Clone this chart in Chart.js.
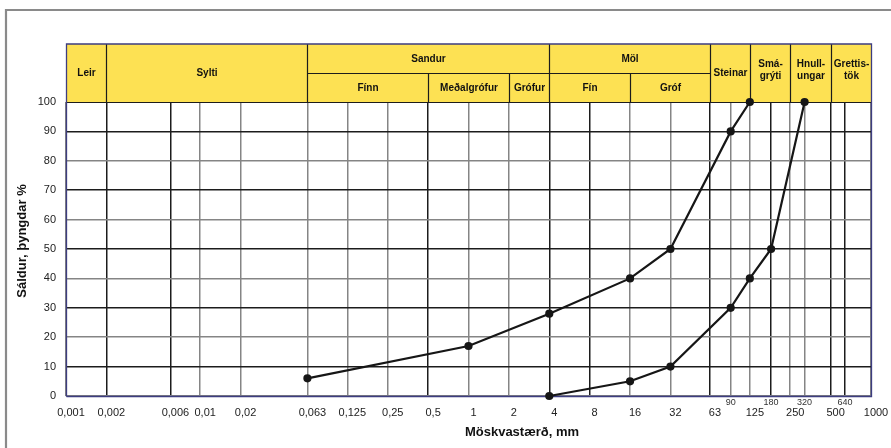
<!DOCTYPE html>
<html><head><meta charset="utf-8">
<script src="https://cdn.jsdelivr.net/npm/chart.js@4.4.0/dist/chart.umd.min.js"></script>
<style>html,body{margin:0;padding:0;background:#fff}canvas{display:block}</style>
</head><body>
<canvas id="c" width="891" height="448"></canvas>
<script>
// ---- data ----
const sizesA = [0.063, 1, 4, 16, 32, 90, 125];
const passA  = [6, 17, 28, 40, 50, 90, 100];
const sizesB = [4, 16, 32, 90, 125, 180, 320];
const passB  = [0, 5, 10, 30, 40, 50, 100];

const xTicks = [0.001, 0.002, 0.006, 0.01, 0.02, 0.063, 0.125, 0.25, 0.5, 1, 2, 4, 8, 16, 32, 63, 125, 250, 500, 1000];
const xMinorTicks = [90, 180, 320, 640];
const yTicks = [0, 10, 20, 30, 40, 50, 60, 70, 80, 90, 100];

// header classes (full height)
const classLabels = ['Leir', 'Sylti', 'Steinar', 'Smá-|grýti', 'Hnull-|ungar', 'Grettis-|tök'];
const classFrom   = [0.001, 0.002, 63, 125, 250, 500];
const classTo     = [0.002, 0.063, 125, 250, 500, 1000];
// header groups (top row) and their sub classes (bottom row)
const groupLabels = ['Sandur', 'Möl'];
const groupFrom   = [0.063, 4];
const groupTo     = [4, 63];
const subLabels   = ['Fínn', 'Meðalgrófur', 'Grófur', 'Fín', 'Gróf'];
const subFrom     = [0.063, 0.5, 2, 4, 16];
const subTo       = [0.5, 2, 4, 16, 63];

const yTitle = 'Sáldur, þyngdar %';
const xTitle = 'Möskvastærð, mm';

// ---- styles ----
const FONT = "'Liberation Sans', Arial, sans-serif";
const NAVY = '#3d3d80';
const DARK = '#1c1c1c';
const GRAY = '#858585';
const YELLOW = '#FDE153';
const darkX = [0.002, 0.006, 0.5, 4, 8, 63, 180, 500, 640];

Chart.defaults.font.family = FONT;

function fmt(v) { return String(v).replace('.', ','); }
function xGridColor(ctx) {
  const v = ctx.tick && ctx.tick.value;
  return darkX.some(d => Math.abs(d - v) / d < 1e-6) ? DARK : GRAY;
}

const decor = {
  id: 'decor',
  beforeDraw(chart) {
    const c = chart.ctx;
    c.save();
    c.fillStyle = '#fff';
    c.fillRect(0, 0, chart.width, chart.height);
    c.strokeStyle = '#8a8a8a';
    c.lineWidth = 2.2;
    c.beginPath();
    c.moveTo(6, chart.height);
    c.lineTo(6, 10);
    c.lineTo(chart.width, 10);
    c.stroke();
    c.restore();
  },
  beforeDatasetsDraw(chart) {
    const c = chart.ctx;
    const xs = chart.scales.x;
    const a = chart.chartArea;
    const top = 44, mid = 73, bot = a.top;
    const X = v => Math.round(xs.getPixelForValue(v)) + 0.5;
    c.save();
    // header fill
    c.fillStyle = YELLOW;
    c.fillRect(X(0.001), top, X(1000) - X(0.001), bot - top);
    c.strokeStyle = DARK;
    c.lineWidth = 1.2;
    // class separators (full height)
    const verts = new Set();
    classFrom.concat(classTo).forEach(v => verts.add(v));
    groupFrom.concat(groupTo).forEach(v => verts.add(v));
    c.beginPath();
    verts.forEach(v => {
      if (v === 0.001 || v === 1000) return;
      c.moveTo(X(v), top); c.lineTo(X(v), bot);
    });
    // sub separators (bottom row)
    subFrom.forEach(v => {
      if (verts.has(v)) return;
      c.moveTo(X(v), mid); c.lineTo(X(v), bot);
    });
    // middle horizontal line under groups
    c.moveTo(X(Math.min(...groupFrom)), mid + 0.5);
    c.lineTo(X(Math.max(...groupTo)), mid + 0.5);
    // header bottom
    c.moveTo(X(0.001), bot + 0.5);
    c.lineTo(X(1000), bot + 0.5);
    c.stroke();
    // text
    c.fillStyle = '#111';
    c.font = 'bold 10px ' + FONT;
    c.textAlign = 'center';
    c.textBaseline = 'middle';
    classLabels.forEach((t, i) => {
      const lines = t.split('|');
      const cx = (X(classFrom[i]) + X(classTo[i])) / 2;
      const cy = lines.length > 1 ? 70 : 73;
      lines.forEach((ln, j) => c.fillText(ln, cx, cy + (j - (lines.length - 1) / 2) * 11.5));
    });
    groupLabels.forEach((t, i) => {
      c.fillText(t, (X(groupFrom[i]) + X(groupTo[i])) / 2, (top + mid) / 2 + 0.5);
    });
    subLabels.forEach((t, i) => {
      c.fillText(t, (X(subFrom[i]) + X(subTo[i])) / 2, (mid + bot) / 2 + 0.5);
    });
    // navy outer border: header top + chart area left, right, bottom
    c.strokeStyle = NAVY;
    c.lineWidth = 1.3;
    c.beginPath();
    c.moveTo(X(0.001), a.bottom + 0.5);
    c.lineTo(X(0.001), top);
    c.lineTo(X(1000), top);
    c.lineTo(X(1000), a.bottom + 0.5);
    c.lineTo(X(0.001), a.bottom + 0.5);
    c.stroke();
    // titles
    c.fillStyle = '#111';
    c.font = 'bold 13px ' + FONT;
    c.textAlign = 'center';
    c.textBaseline = 'middle';
    c.fillText(xTitle, 522, 432);
    c.translate(22, 241);
    c.rotate(-Math.PI / 2);
    c.fillText(yTitle, 0, 0);
    c.restore();
  }
};

const lineStyle = {
  borderColor: '#161616',
  backgroundColor: '#161616',
  borderWidth: 2.2,
  pointRadius: 3,
  pointHoverRadius: 3,
  pointBackgroundColor: '#161616',
  pointBorderColor: '#161616',
  tension: 0,
  clip: false,
  fill: false
};

new Chart(document.getElementById('c'), {
  type: 'line',
  data: {
    datasets: [
      Object.assign({ label: 'A', data: sizesA.map((x, i) => ({ x, y: passA[i] })) }, lineStyle),
      Object.assign({ label: 'B', data: sizesB.map((x, i) => ({ x, y: passB[i] })) }, lineStyle)
    ]
  },
  options: {
    responsive: false,
    animation: false,
    devicePixelRatio: 1,
    layout: { padding: { left: 0, right: 20, top: 102, bottom: 0 } },
    plugins: { legend: { display: false }, tooltip: { enabled: false }, title: { display: false } },
    scales: {
      x: {
        type: 'logarithmic',
        position: 'bottom',
        weight: 1,
        min: 0.001, max: 1000,
        afterBuildTicks: s => { s.ticks = xTicks.map(v => ({ value: v })); },
        afterFit: s => { s.height = 42; },
        border: { display: false },
        grid: { color: xGridColor, lineWidth: 1.5, drawTicks: false },
        ticks: {
          autoSkip: false, maxRotation: 0, minRotation: 0, padding: 0, labelOffset: 5,
          color: '#222', font: { size: 11 },
          callback: v => fmt(v)
        }
      },
      x2: {
        type: 'logarithmic',
        position: 'bottom',
        weight: 0,
        min: 0.001, max: 1000,
        afterBuildTicks: s => { s.ticks = xMinorTicks.map(v => ({ value: v })); },
        afterFit: s => { s.height = 10; },
        border: { display: false },
        grid: { color: xGridColor, lineWidth: 1.5, drawTicks: false },
        ticks: {
          autoSkip: false, maxRotation: 0, minRotation: 0, padding: 1,
          color: '#333', font: { size: 9 },
          callback: v => fmt(v)
        }
      },
      y: {
        type: 'linear',
        min: 0, max: 100,
        afterBuildTicks: s => { s.ticks = yTicks.map(v => ({ value: v })); },
        afterFit: s => { s.width = 66; },
        border: { display: false },
        grid: {
          color: ctx => ((ctx.tick.value / 10) % 2 === 1 ? DARK : GRAY),
          lineWidth: 1.5, drawTicks: false
        },
        ticks: { padding: 10, color: '#222', font: { size: 11 } }
      }
    }
  },
  plugins: [decor]
});
</script>
</body></html>
